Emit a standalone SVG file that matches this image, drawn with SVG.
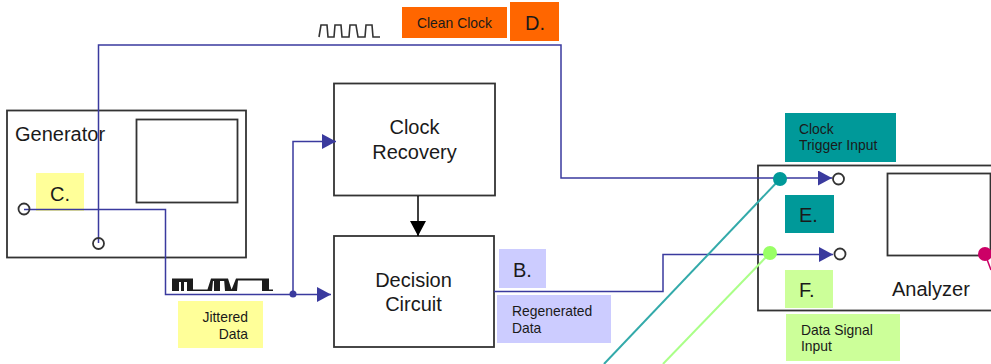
<svg xmlns="http://www.w3.org/2000/svg" width="991" height="364" viewBox="0 0 991 364">
<defs>
<marker id="blue" markerUnits="userSpaceOnUse" markerWidth="14" markerHeight="15" refX="14" refY="7.500" orient="auto"><path d="M0 0L14 7.500L0 15Z" fill="#3a3a9e"/></marker>
<marker id="black" markerUnits="userSpaceOnUse" markerWidth="15" markerHeight="16" refX="15" refY="8" orient="auto"><path d="M0 0L15 8L0 16Z" fill="#000"/></marker>
</defs>
<style>
text{font-family:"Liberation Sans",Arial,sans-serif;fill:#1a1a1a}
.box{fill:#fff;stroke:#333;stroke-width:1.8}
.port{fill:#fff;stroke:#333;stroke-width:1.8}
.w{fill:none;stroke:#3a3a9e;stroke-width:1.5}
.s{font-size:13.900px}
.m{font-size:20px}
.l{font-size:20px}
</style>
<rect width="991" height="364" fill="#fff"/>
<g id="generator">
<rect class="box" x="7" y="110.500" width="239" height="147"/>
<rect class="box" x="136.500" y="119.500" width="101" height="83"/>
<text class="l" x="15" y="141">Generator</text>
</g>
<g id="label-c"><rect x="36" y="173" width="48" height="38" fill="#ffff99"/><text class="m" x="50" y="201">C.</text></g>
<g id="clock-recovery"><rect class="box" x="334" y="83.500" width="161" height="112"/><text class="l" text-anchor="middle" x="414.500" y="134">Clock</text><text class="l" text-anchor="middle" x="414.500" y="159">Recovery</text></g>
<g id="decision-circuit"><rect class="box" x="334" y="236" width="160" height="111"/><text class="l" text-anchor="middle" x="413.500" y="287">Decision</text><text class="l" text-anchor="middle" x="413.500" y="311">Circuit</text></g>
<g id="analyzer">
<rect class="box" x="758" y="165.500" width="240" height="145"/>
<rect class="box" x="887.500" y="173.500" width="103" height="82"/>
<text class="l" x="892" y="296">Analyzer</text>
</g>
<g id="label-clean"><rect x="402" y="7" width="105" height="31" fill="#ff6600"/><text class="s" x="417" y="28">Clean Clock</text></g>
<g id="label-d"><rect x="510" y="2" width="49" height="39" fill="#ff6600"/><text class="m" x="525" y="30">D.</text></g>
<g id="label-jittered"><rect x="178" y="301" width="85" height="47" fill="#ffff99"/><text class="s" text-anchor="end" x="248" y="322">Jittered</text><text class="s" text-anchor="end" x="248" y="339">Data</text></g>
<g id="label-b"><rect x="499" y="249" width="47" height="39" fill="#ccccff"/><text class="m" x="513" y="277">B.</text></g>
<g id="label-regen"><rect x="497" y="295" width="114" height="48" fill="#ccccff"/><text class="s" x="512" y="316">Regenerated</text><text class="s" x="512" y="333">Data</text></g>
<g id="label-trigger"><rect x="785" y="113" width="111" height="49" fill="#009999"/><text class="s" x="799" y="134">Clock</text><text class="s" x="799" y="150">Trigger Input</text></g>
<g id="label-e"><rect x="785" y="195" width="49" height="38" fill="#009999"/><text class="m" x="799" y="222">E.</text></g>
<g id="label-f"><rect x="785" y="270" width="48" height="38" fill="#ccff99"/><text class="m" x="799" y="297">F.</text></g>
<g id="label-input"><rect x="786" y="314" width="114" height="47" fill="#ccff99"/><text class="s" x="801" y="335">Data Signal</text><text class="s" x="801" y="351">Input</text></g>
<g id="waveforms">
<path fill="none" stroke="#333" stroke-width="1.600" d="M319 37L321 25H327L328 37H334L335 25H341L342 37H349L350 25H356L358 37H365L366 25H372L373 37H380"/>
<path fill="#1c1c1c" d="M172 278.500H193V291H187V282H184V291H181V282H179V291H172ZM191 289.500H208V291H191ZM207 291L211 278.500H225V281H220V291H214V281H213L212 291ZM224 278.500H228L232 291H225ZM231 291L236 278.500H263V280.500H238L237 291ZM262 278.500H269V289.500H273V291H262Z"/>
</g>
<g id="connectors">
<path class="w" d="M98.500 243V45H561V178H832" marker-end="url(#blue)"/>
<path class="w" d="M24 209.500H165.500V294.500H331" marker-end="url(#blue)"/>
<path class="w" d="M293 294V141.500H336" marker-end="url(#blue)"/>
<path class="w" d="M494 291.500H663V254.500H833" marker-end="url(#blue)"/>
<path fill="none" stroke="#000" stroke-width="1.500" d="M418 196V236" marker-end="url(#black)"/>
<path fill="none" stroke="#33aaaa" stroke-width="2" d="M780 179L604 364"/>
<path fill="none" stroke="#aaff88" stroke-width="2" d="M770 253L663 364"/>
<path fill="none" stroke="#cc0066" stroke-width="1.500" d="M985 254L991 270"/>
<circle cx="293" cy="294" r="3.500" fill="#3a3a9e"/>
<circle cx="780" cy="179" r="7" fill="#009999"/>
<circle cx="770" cy="253" r="7" fill="#99ff66"/>
<circle cx="985" cy="254" r="7" fill="#cc0066"/>
</g>
<g id="ports">
<circle class="port" cx="24" cy="209" r="5.500" style="fill:none"/>
<circle class="port" cx="98.500" cy="243.500" r="5.500" style="fill:none"/>
<circle class="port" cx="838.500" cy="179" r="5.500"/>
<circle class="port" cx="840" cy="254" r="5.500"/>
</g>
</svg>
